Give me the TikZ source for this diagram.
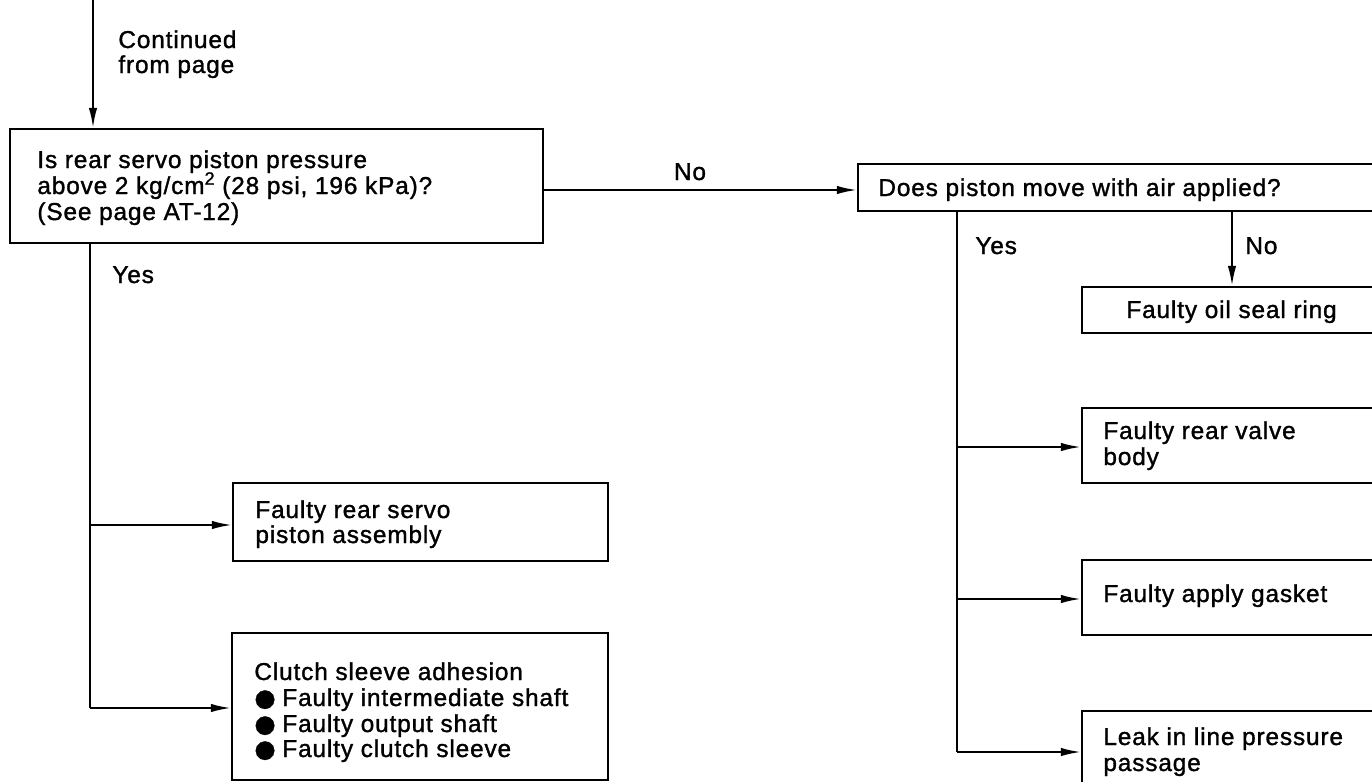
\documentclass[tikz,border=0pt]{standalone}
\usepackage{fontspec}
\setmainfont[LetterSpace=3.5,FakeBold=1.3]{Liberation Sans}
\newfontfamily\symfont[FakeBold=1.3]{DejaVu Sans}
\usetikzlibrary{arrows.meta,fit}
\begin{document}
\begin{tikzpicture}[x=0.5pt,y=-0.5pt,
  box/.style={draw,line width=1.1pt,inner sep=0pt},
  conn/.style={line width=1pt},
  arr/.style={conn,-{Latex[length=10pt,width=4.2pt]}},
  txt/.style={anchor=base west,inner sep=0pt,font=\fontsize{12.2}{13}\selectfont},
  ctxt/.style={txt,anchor=base}]
\useasboundingbox (0,0) rectangle (1372,782);
% boxes
\node[box,fit={(10,129)(543,243)}] (q1) {};
\node[box,fit={(233,483)(608,561)}] (servo) {};
\node[box,fit={(232,633)(608,780)}] (clutch) {};
\node[box,fit={(858,164)(1400,211)}] (q2) {};
\node[box,fit={(1082,287)(1400,333)}] (oil) {};
\node[box,fit={(1082,408)(1400,483)}] (valve) {};
\node[box,fit={(1082,560)(1400,635)}] (gasket) {};
\node[box,fit={(1082,711)(1400,800)}] (leak) {};
% texts
\node[txt] (tc1) at (118,48) {Continued};
\node[txt] (tc2) at (118,73) {from page};
\node[txt] (tq1a) at (37,168) {Is rear servo piston pressure};
\node[txt] (tq1b) at (37,194) {above 2 kg/cm\raisebox{0.38em}{\fontsize{9}{9}\selectfont 2} (28 psi, 196 kPa)?};
\node[txt] (tq1c) at (37,220) {(See page AT-12)};
\node[txt] (tyes1) at (112,283) {Yes};
\node[ctxt] (tno1) at (690,180) {No};
\node[txt] (ts1) at (255,518) {Faulty rear servo};
\node[txt] (ts2) at (255,543) {piston assembly};
\node[txt] (tcl0) at (254,680) {Clutch sleeve adhesion};
\node[txt] (tb1) at (254,706) {{\symfont ●}};
\node[txt] (tcl1) at (282,706) {Faulty intermediate shaft};
\node[txt] (tb2) at (254,732) {{\symfont ●}};
\node[txt] (tcl2) at (282,732) {Faulty output shaft};
\node[txt] (tb3) at (254,757) {{\symfont ●}};
\node[txt] (tcl3) at (282,757) {Faulty clutch sleeve};
\node[txt] (tq2) at (878,196) {Does piston move with air applied?};
\node[txt] (tyes2) at (975,254) {Yes};
\node[txt] (tno2) at (1245,254) {No};
\node[txt] (toil) at (1126,318) {Faulty oil seal ring};
\node[txt] (tv1) at (1103,439) {Faulty rear valve};
\node[txt] (tv2) at (1103,465) {body};
\node[txt] (tg) at (1103,602) {Faulty apply gasket};
\node[txt] (tl1) at (1103,745) {Leak in line pressure};
\node[txt] (tl2) at (1103,771) {passage};
% connectors
\coordinate (in) at (93,0);
\draw[arr] (in) -- (in |- q1.north);
\coordinate (yl1) at (90,525);
\coordinate (yl2) at (90,708);
\draw[conn] (yl1 |- q1.south) -- (yl2);
\draw[arr] (yl1) -- (yl1 -| servo.west);
\draw[arr] (yl2) -- (yl2 -| clutch.west);
\coordinate (n1) at (543,190);
\draw[arr] (q1.east |- n1) -- (q2.west |- n1);
\coordinate (yr1) at (957,447);
\coordinate (yr2) at (957,599);
\coordinate (yr3) at (957,752);
\draw[conn] (yr1 |- q2.south) -- (yr3);
\draw[arr] (yr1) -- (yr1 -| valve.west);
\draw[arr] (yr2) -- (yr2 -| gasket.west);
\draw[arr] (yr3) -- (yr3 -| leak.west);
\coordinate (nr) at (1232,0);
\draw[arr] (nr |- q2.south) -- (nr |- oil.north);
\end{tikzpicture}
\end{document}
